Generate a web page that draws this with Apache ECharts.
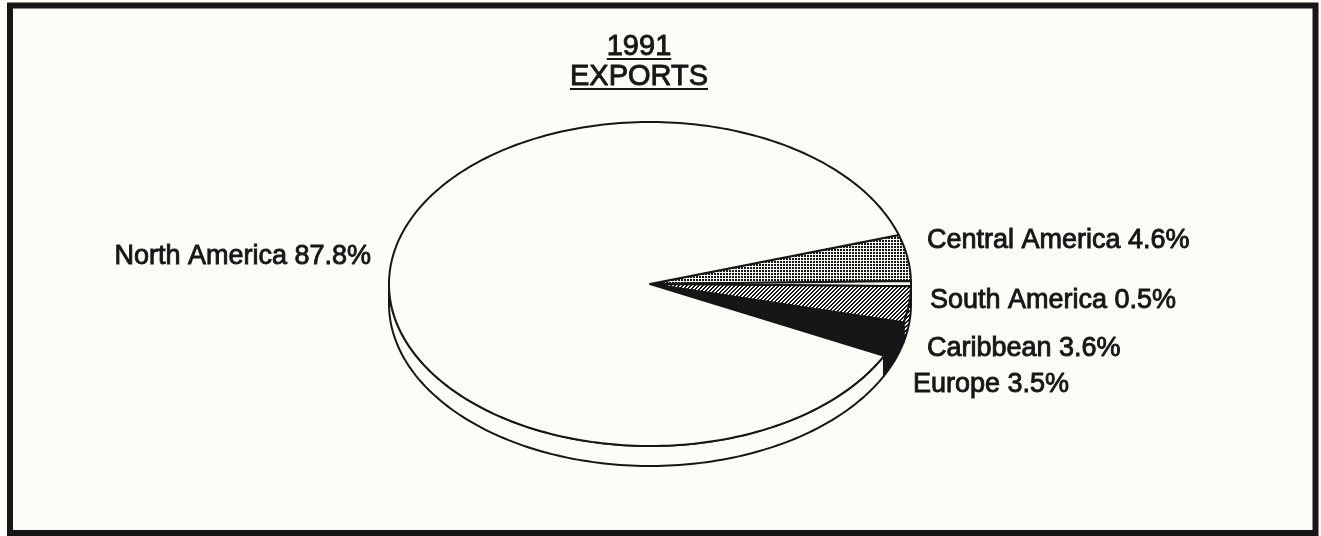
<!DOCTYPE html>
<html>
<head>
<meta charset="utf-8">
<script src="https://cdn.jsdelivr.net/npm/echarts@6/dist/echarts.min.js"></script>
<style>
  html, body { margin: 0; padding: 0; background: #fdfcf6; }
  #chart { width: 1321px; height: 536px; }
</style>
</head>
<body>
<div id="chart"></div>
<script>
// ---- data ----
const titleLines = ['1991', 'EXPORTS'];
const regions = ['Central America', 'South America', 'Caribbean', 'Europe', 'North America'];
const shares = [4.6, 0.5, 3.6, 3.5, 87.8];

// ---- look ----
const PAPER = '#fdfcf6';
const INK = '#161616';
const FONT = '"Liberation Sans", Arial, Helvetica, sans-serif';
const LABEL_SIZE = 27;
const TITLE_SIZE = 29;

// tilted pie: ellipse centre, radii, rim depth, start angle (deg, counter-clockwise from 3 o'clock)
const pie = { cx: 650, cy: 284, rx: 261, ry: 162, depth: 20, start: 17.6 };

// label anchors, one per region
const labelSpots = [
  { x: 927, y: 241, align: 'left' },
  { x: 930, y: 301, align: 'left' },
  { x: 927, y: 349, align: 'left' },
  { x: 913, y: 385, align: 'left' },
  { x: 371, y: 257, align: 'right' }
];

// small repeating tiles used as slice fills
function makeTile(size, draw) {
  const c = document.createElement('canvas');
  c.width = c.height = size;
  const g = c.getContext('2d');
  g.fillStyle = PAPER;
  g.fillRect(0, 0, size, size);
  g.fillStyle = INK;
  draw(g, size);
  return c;
}
const dotTile = makeTile(3, g => g.fillRect(0, 0, 2, 2));
const hatchTile = makeTile(4, (g, s) => {
  for (let i = 0; i < s; i++) {
    g.fillRect(i, s - 1 - i, 1, 1);
    g.fillRect(i, (s - i) % s, 1, 1);
  }
});
const fills = [
  { image: dotTile, repeat: 'repeat' },
  PAPER,
  { image: hatchTile, repeat: 'repeat' },
  INK,
  PAPER
];

const total = shares.reduce((a, b) => a + b, 0);

function arcPoints(a0, a1, dy) {
  const pts = [];
  const n = Math.max(2, Math.ceil(Math.abs(a0 - a1) / 1.2));
  for (let k = 0; k <= n; k++) {
    const a = (a0 + (a1 - a0) * k / n) * Math.PI / 180;
    pts.push([pie.cx + pie.rx * Math.cos(a), pie.cy - pie.ry * Math.sin(a) + dy]);
  }
  return pts;
}

function renderSlice(params, api) {
  const i = params.dataIndex;
  const v = api.value(0);
  let before = 0;
  for (let k = 0; k < i; k++) before += shares[k];
  const a0 = pie.start - before / total * 360;
  const a1 = a0 - v / total * 360;
  const children = [];
  const edge = { stroke: INK, lineWidth: 2, lineJoin: 'round' };

  // visible rim: the part of the slice lying on the front half of the ellipse
  const s0 = Math.min(a0, 0), s1 = Math.max(a1, -180);
  if (s0 > s1) {
    const upper = arcPoints(s0, s1, 0);
    const lower = arcPoints(s1, s0, pie.depth);
    children.push({
      type: 'polygon',
      shape: { points: upper.concat(lower) },
      style: Object.assign({ fill: fills[i] }, edge)
    });
  }
  // top face
  children.push({
    type: 'polygon',
    shape: { points: [[pie.cx, pie.cy]].concat(arcPoints(a0, a1, 0)) },
    style: Object.assign({ fill: fills[i] }, edge)
  });
  // label
  const spot = labelSpots[i];
  children.push({
    type: 'text',
    style: {
      text: regions[i] + ' ' + v.toFixed(1) + '%',
      x: spot.x, y: spot.y,
      align: spot.align, verticalAlign: 'middle',
      font: LABEL_SIZE + 'px ' + FONT,
      fill: INK, stroke: INK, lineWidth: 0.9
    }
  });
  return { type: 'group', children };
}

// title with underlines
function textWidth(str, size) {
  const g = document.createElement('canvas').getContext('2d');
  g.font = size + 'px ' + FONT;
  return g.measureText(str).width;
}
const titleX = 639;
const titleY = [47, 77];
const titleGraphics = [];
titleLines.forEach((t, k) => {
  const w = textWidth(t, TITLE_SIZE);
  titleGraphics.push({
    type: 'text',
    style: {
      text: t, x: titleX, y: titleY[k], align: 'center', verticalAlign: 'middle',
      font: TITLE_SIZE + 'px ' + FONT, fill: INK, stroke: INK, lineWidth: 0.9
    }
  });
  titleGraphics.push({
    type: 'line',
    shape: { x1: titleX - w / 2, y1: titleY[k] + 12, x2: titleX + w / 2, y2: titleY[k] + 12 },
    style: { stroke: INK, lineWidth: 2 }
  });
});

const chart = echarts.init(document.getElementById('chart'), null, { renderer: 'canvas' });
chart.setOption({
  backgroundColor: PAPER,
  animation: false,
  graphic: [
    {
      type: 'rect',
      shape: { x: 10, y: 5.5, width: 1305.5, height: 527.5 },
      style: { fill: 'none', stroke: INK, lineWidth: 6 }
    }
  ].concat(titleGraphics),
  series: [{
    type: 'custom',
    coordinateSystem: 'none',
    renderItem: renderSlice,
    data: shares.map((v, i) => ({ name: regions[i], value: v }))
  }]
});
</script>
</body>
</html>
